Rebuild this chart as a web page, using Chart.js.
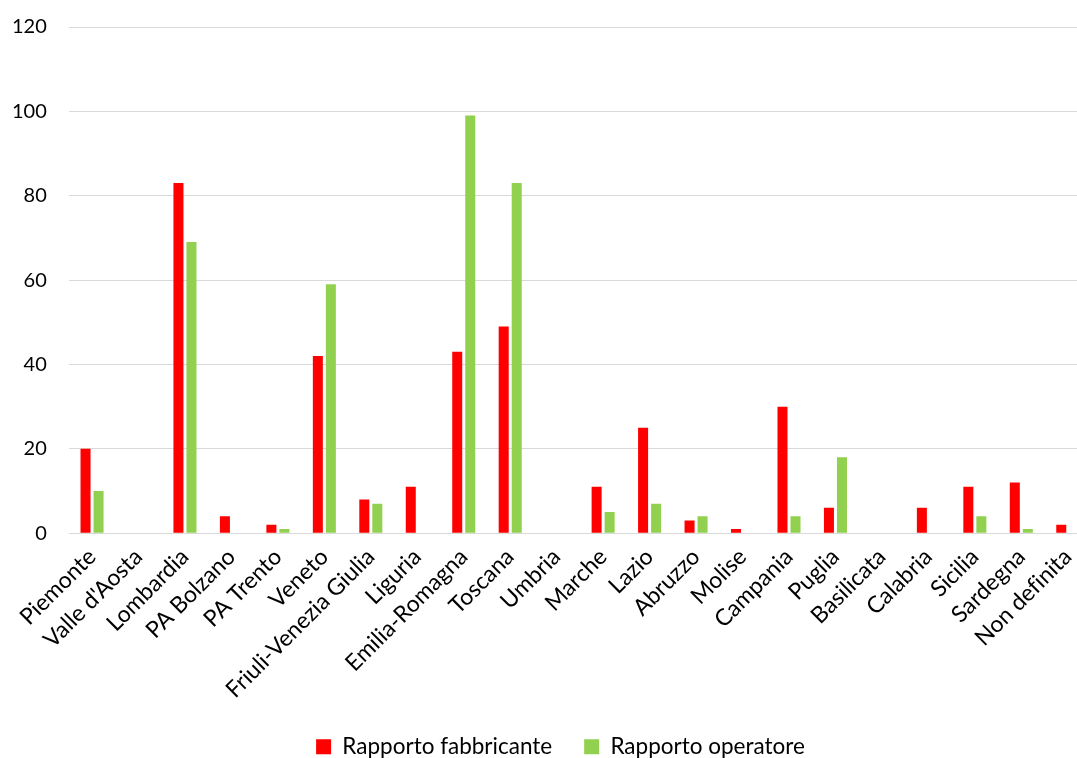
<!DOCTYPE html>
<html>
<head>
<meta charset="utf-8">
<script src="https://cdn.jsdelivr.net/npm/chart.js@4"></script>
<style>
html,body{margin:0;padding:0;background:#fff;overflow:hidden;width:1077px;height:758px;}
#wrap{position:absolute;left:-20px;top:-7px;width:1200px;height:777px;}
</style>
</head>
<body>
<div id="wrap"><canvas id="c" width="1200" height="777"></canvas></div>
<script>
const categories = ["Piemonte","Valle d'Aosta","Lombardia","PA Bolzano","PA Trento","Veneto","Friuli-Venezia Giulia","Liguria","Emilia-Romagna","Toscana","Umbria","Marche","Lazio","Abruzzo","Molise","Campania","Puglia","Basilicata","Calabria","Sicilia","Sardegna","Non definita"];
const fabbricante = [20,0,83,4,2,42,8,11,43,49,0,11,25,3,1,30,6,0,6,11,12,2];
const operatore   = [10,0,69,0,1,59,7,0,99,83,0,5,7,4,0,4,18,0,0,4,1,0];
const seriesNames = ["Rapporto fabbricante","Rapporto operatore"];
const yTicks = [0,20,40,60,80,100,120];

const FONT = "Lato, 'Open Sans', sans-serif";

const tweak = {
  id: 'tweak',
  afterLayout(chart) {
    const lg = chart.legend;
    if (lg) { lg.left += 20; lg.right += 20; lg.top -= 2; lg.bottom -= 2; }
  },
  beforeDraw(chart) {
    try { chart.ctx.textRendering = 'optimizeSpeed'; } catch (e) {}
  }
};

new Chart(document.getElementById('c'), {
  type: 'bar',
  data: {
    labels: categories,
    datasets: [
      {label: seriesNames[0], data: fabbricante, backgroundColor: '#ff0000', categoryPercentage: 0.56, barPercentage: 0.77},
      {label: seriesNames[1], data: operatore, backgroundColor: '#92d050', categoryPercentage: 0.56, barPercentage: 0.77}
    ]
  },
  plugins: [tweak],
  options: {
    responsive: false,
    animation: false,
    layout: {padding: {top: 2, left: 10, right: 89, bottom: 0}},
    plugins: {
      tooltip: {enabled: false},
      legend: {
        position: 'bottom',
        labels: {
          font: {family: FONT, size: 22.5},
          color: '#000',
          boxWidth: 15, boxHeight: 15,
          padding: 32
        }
      }
    },
    scales: {
      x: {
        grid: {display: false},
        border: {display: false},
        ticks: {
          font: {family: FONT, size: 23},
          color: '#000',
          minRotation: 45, maxRotation: 45,
          autoSkip: false,
          padding: 2
        }
      },
      y: {
        min: 0, max: 120,
        afterBuildTicks: (s) => { s.ticks = yTicks.map(v => ({value: v})); },
        grid: {color: '#d9d9d9', lineWidth: 1, drawTicks: false},
        border: {display: false},
        ticks: {
          font: {family: FONT, size: 20},
          color: '#000',
          padding: 22
        }
      }
    }
  }
});
</script>
</body>
</html>
